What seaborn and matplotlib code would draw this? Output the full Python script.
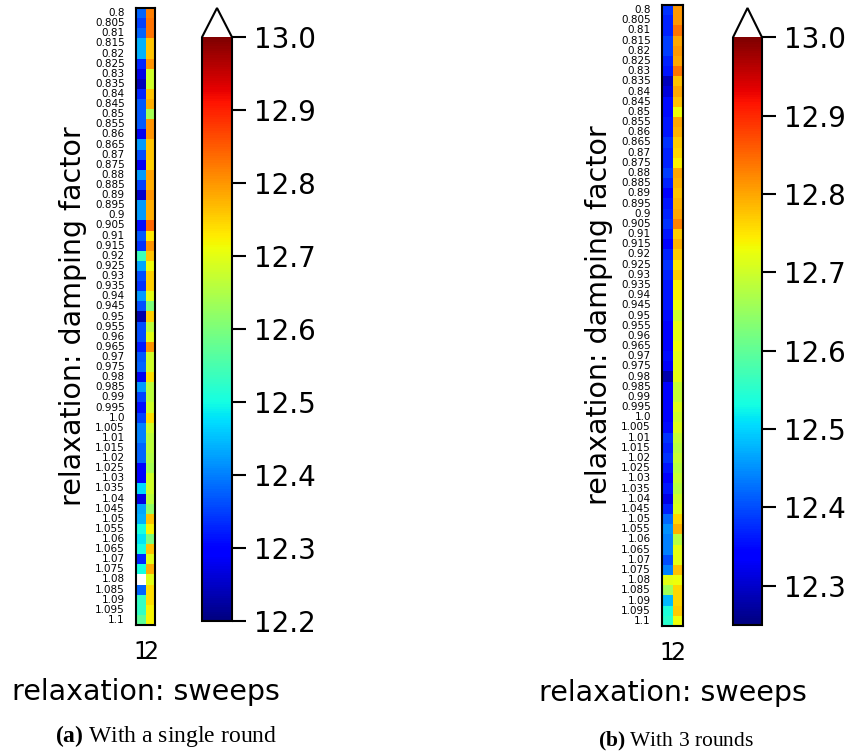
import numpy as np
import pandas as pd
import matplotlib
matplotlib.use("Agg")
import matplotlib.pyplot as plt
import seaborn as sns

sns.set_style("white")
plt.rcParams['font.family'] = ['DejaVu Sans']
plt.rcParams['text.color'] = 'black'
plt.rcParams['axes.labelcolor'] = 'black'
plt.rcParams['xtick.color'] = 'black'
plt.rcParams['ytick.color'] = 'black'
plt.rcParams['mathtext.fontset'] = 'custom'
plt.rcParams['mathtext.bf'] = 'Liberation Serif:bold'
plt.rcParams['mathtext.rm'] = 'Liberation Serif'

# damping factor categories 0.8 .. 1.1
damping = [round(0.8 + 0.005 * i, 3) for i in range(61)]
sweeps = [1, 2]

# (a) single round, sweeps = 1 and 2
single_sw1 = [12.38, 12.35, 12.38, 12.44, 12.44, 12.33, 12.27, 12.24, 12.33, 12.37,
              12.37, 12.37, 12.28, 12.42, 12.36, 12.28, 12.42, 12.35, 12.25, 12.42,
              12.42, 12.31, 12.37, 12.34, 12.54, 12.43, 12.36, 12.34, 12.42, 12.36,
              12.23, 12.36, 12.36, 12.32, 12.37, 12.38, 12.28, 12.42, 12.35, 12.31,
              12.35, 12.40, 12.40, 12.38, 12.38, 12.29, 12.29, 12.47, 12.27, 12.43,
              12.44, 12.50, 12.48, 12.50, 12.33, 12.50, 13.10, 12.38, 12.53, 12.53,
              12.57]
single_sw2 = [12.82, 12.83, 12.83, 12.76, 12.76, 12.80, 12.68, 12.68, 12.76, 12.78,
              12.64, 12.80, 12.80, 12.76, 12.76, 12.75, 12.79, 12.78, 12.80, 12.78,
              12.78, 12.84, 12.73, 12.80, 12.76, 12.71, 12.75, 12.75, 12.70, 12.60,
              12.75, 12.66, 12.70, 12.80, 12.68, 12.68, 12.74, 12.66, 12.66, 12.68,
              12.74, 12.68, 12.66, 12.66, 12.65, 12.64, 12.68, 12.68, 12.66, 12.62,
              12.76, 12.72, 12.60, 12.76, 12.70, 12.78, 12.70, 12.74, 12.74, 12.72,
              12.72]

# (b) 3 rounds, sweeps = 1 and 2
rounds3_sw1 = [12.38, 12.37, 12.37, 12.39, 12.39, 12.37, 12.36, 12.29, 12.31, 12.35,
               12.35, 12.36, 12.36, 12.38, 12.37, 12.37, 12.39, 12.37, 12.34, 12.36,
               12.37, 12.38, 12.36, 12.34, 12.37, 12.38, 12.37, 12.36, 12.36, 12.36,
               12.35, 12.34, 12.34, 12.34, 12.35, 12.33, 12.28, 12.34, 12.34, 12.34,
               12.34, 12.35, 12.38, 12.37, 12.38, 12.36, 12.34, 12.36, 12.32, 12.37,
               12.42, 12.45, 12.44, 12.44, 12.40, 12.44, 12.72, 12.66, 12.48, 12.54,
               12.55]
rounds3_sw2 = [12.81, 12.81, 12.84, 12.80, 12.81, 12.80, 12.84, 12.78, 12.80, 12.78,
               12.73, 12.80, 12.79, 12.77, 12.76, 12.74, 12.80, 12.79, 12.78, 12.79,
               12.80, 12.83, 12.77, 12.79, 12.77, 12.75, 12.77, 12.74, 12.74, 12.73,
               12.70, 12.72, 12.72, 12.73, 12.72, 12.72, 12.72, 12.69, 12.69, 12.71,
               12.70, 12.71, 12.69, 12.68, 12.69, 12.68, 12.69, 12.68, 12.70, 12.71,
               12.76, 12.79, 12.68, 12.72, 12.72, 12.78, 12.73, 12.76, 12.76, 12.77,
               12.73]

W, H = 846, 753
fig = plt.figure(figsize=(W / 100, H / 100), dpi=100)

cmap = plt.get_cmap('jet').copy()
cmap.set_over('white')


def px(x0, y0, x1, y1):
    return [x0 / W, 1 - y1 / H, (x1 - x0) / W, (y1 - y0) / H]


def panel(sw1, sw2, hm_box, cb_box, vmin, vmax, cticks):
    df = pd.DataFrame({1: sw1, 2: sw2}, index=[str(d) for d in damping])
    ax = fig.add_axes(px(*hm_box))
    cax = fig.add_axes(px(*cb_box))
    sns.heatmap(df, ax=ax, cbar_ax=cax, cmap=cmap, vmin=vmin, vmax=vmax,
                yticklabels=True, xticklabels=True,
                cbar_kws={'extend': 'max', 'ticks': cticks})
    ax.set_yticklabels(df.index, rotation=0, fontsize=7.5)
    ax.set_xticklabels([str(s) for s in sweeps], rotation=0, fontsize=17)
    ax.tick_params(axis='y', length=6, width=1.5, pad=2)
    ax.tick_params(axis='x', length=9, width=1.5, pad=2)
    for s in ax.spines.values():
        s.set_visible(True)
        s.set_color('black')
        s.set_linewidth(1.5)
    ax.set_ylabel('relaxation: damping factor', fontsize=20.5, labelpad=6)
    ax.set_xlabel('relaxation: sweeps', fontsize=20.5, labelpad=10)
    cb = ax.collections[0].colorbar
    cb.outline.set_linewidth(1.5)
    cb.outline.set_edgecolor('black')
    cb.ax.tick_params(labelsize=20, length=10, width=1.5, pad=6)
    cb.ax.set_yticklabels([f'{t:.1f}' for t in cticks])


panel(single_sw1, single_sw2, (136, 8, 155, 625), (202, 8, 232, 621),
      12.2, 13.0, [12.2, 12.3, 12.4, 12.5, 12.6, 12.7, 12.8, 12.9, 13.0])
panel(rounds3_sw1, rounds3_sw2, (662, 5, 683, 626), (733, 8, 762, 625),
      12.25, 13.0, [12.3, 12.4, 12.5, 12.6, 12.7, 12.8, 12.9, 13.0])

fig.text(166 / W, 1 - 736 / H, r'$\mathbf{(a)}$ With a single round',
         family='Liberation Serif', fontsize=17, ha='center', va='center')
fig.text(676 / W, 1 - 741 / H, r'$\mathbf{(b)}$ With 3 rounds',
         family='Liberation Serif', fontsize=15.5, ha='center', va='center')

fig.savefig('out.png', dpi=100)
